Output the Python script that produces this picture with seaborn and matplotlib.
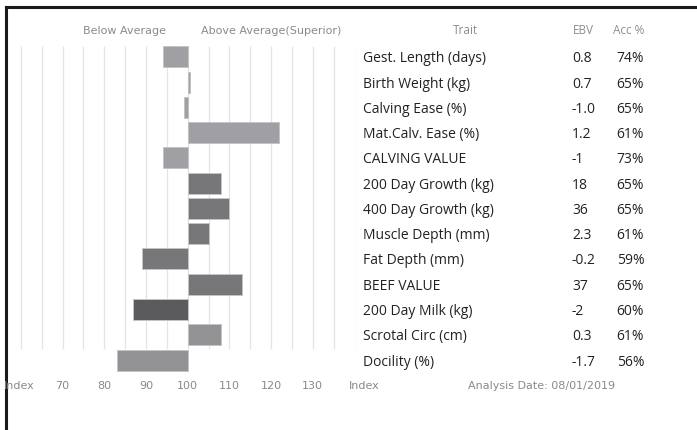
import matplotlib
matplotlib.use("Agg")
import matplotlib.pyplot as plt
from matplotlib.lines import Line2D
from matplotlib.transforms import blended_transform_factory
import seaborn as sns
import pandas as pd

# ---- data ----
traits = ["Gest. Length (days)", "Birth Weight (kg)", "Calving Ease (%)",
          "Mat.Calv. Ease (%)", "CALVING VALUE", "200 Day Growth (kg)",
          "400 Day Growth (kg)", "Muscle Depth (mm)", "Fat Depth (mm)",
          "BEEF VALUE", "200 Day Milk (kg)", "Scrotal Circ (cm)", "Docility (%)"]
index_values = [94, 100.5, 99, 122, 94, 108, 110, 105, 89, 113, 87, 108, 83]
ebv = ["0.8", "0.7", "-1.0", "1.2", "-1", "18", "36", "2.3", "-0.2", "37", "-2", "0.3", "-1.7"]
acc = ["74%", "65%", "65%", "61%", "73%", "65%", "65%", "61%", "59%", "65%", "60%", "61%", "56%"]
group = ["Calving"] * 5 + ["Carcase"] * 5 + ["Milk", "Other", "Other"]
tick_values = [70, 80, 90, 100, 110, 120, 130]
baseline = 100

palette = {"Calving": "#a0a0a4", "Carcase": "#76767a", "Milk": "#5b5b5e", "Other": "#939397"}

df = pd.DataFrame({"trait": traits, "dev": [v - baseline for v in index_values], "group": group})

W, H = 697, 431
fig = plt.figure(figsize=(W / 100, H / 100), dpi=100)
fig.patch.set_facecolor("white")

px_per_unit = 4.17
x100 = 187.7
ax_left_px, ax_right_px = 7, 357
ax_top_px, ax_bot_px = 40, 376
row0, row_step = 57.8, 25.27

ax = fig.add_axes([ax_left_px / W, (H - ax_bot_px) / H,
                   (ax_right_px - ax_left_px) / W, (ax_bot_px - ax_top_px) / H])

sns.barplot(data=df, x="dev", y="trait", hue="group", palette=palette, dodge=False,
            legend=False, orient="h", width=0.83, ax=ax, edgecolor="#c4c4c6",
            linewidth=0.7, zorder=3)

ax.set_xlim((ax_left_px - x100) / px_per_unit, (ax_right_px - x100) / px_per_unit)
ax.set_ylim((ax_bot_px - row0) / row_step, (ax_top_px - row0) / row_step)

# vertical grid lines
grid_x = list(range(-40, 40, 5))
ax.vlines(grid_x, -0.42, 11.55, colors="#e4e4e4", linewidth=0.9, zorder=1)
ax.vlines([(356.7 - x100) / px_per_unit], -0.42, 11.55, colors="#dcdcdc", linewidth=0.9, zorder=1)

for s in ax.spines.values():
    s.set_visible(False)
ax.set_xlabel("")
ax.set_ylabel("")
ax.set_yticks([])
ax.set_xticks([t - baseline for t in tick_values])
ax.set_xticklabels([str(t) for t in tick_values])
ax.tick_params(axis="x", length=0, pad=3.8, labelsize=8, labelcolor="#8a8a8a")
ax.set_facecolor("none")

gray = "#8a8a8a"
ax_lbl_y = 386.5
fig.text(19.5 / W, 1 - ax_lbl_y / H, "Index", ha="center", va="center", fontsize=8, color=gray)
fig.text(364 / W, 1 - ax_lbl_y / H, "Index", ha="center", va="center", fontsize=8, color=gray)
fig.text(542 / W, 1 - ax_lbl_y / H, "Analysis Date: 08/01/2019", ha="center", va="center",
         fontsize=8, color=gray)

# header
fig.text(124.5 / W, 1 - 31 / H, "Below Average", ha="center", va="center", fontsize=8, color=gray)
fig.text(271.5 / W, 1 - 31 / H, "Above Average(Superior)", ha="center", va="center", fontsize=8, color=gray)

tfont = "Open Sans"
hdr = dict(ha="center", va="center", fontsize=8.5, color="#8e8e8e", family=tfont)
fig.text(465 / W, 1 - 30 / H, "Trait", **hdr)
fig.text(583 / W, 1 - 30 / H, "EBV", **hdr)
fig.text(629 / W, 1 - 30 / H, "Acc %", **hdr)

tr = blended_transform_factory(fig.transFigure, ax.transData)
body = dict(transform=tr, ha="left", va="center", fontsize=10, color="#222222",
            family=tfont, clip_on=False)
for i, (t, e, a) in enumerate(zip(traits, ebv, acc)):
    ax.text(362.7 / W, i + 0.04, t, **body)
    ax.text(572 / W, i + 0.04, e, **body)
    ax.text(616.7 / W, i + 0.04, a, **body)

# frame lines
fig.add_artist(Line2D([6 / W, 1], [1 - 8 / H, 1 - 8 / H], color="#1a1a1a", linewidth=2.2,
                      transform=fig.transFigure))
fig.add_artist(Line2D([6 / W, 6 / W], [0, 1 - 8 / H], color="#1a1a1a", linewidth=2.2,
                      transform=fig.transFigure))

fig.savefig("out.png", dpi=100, facecolor="white")
